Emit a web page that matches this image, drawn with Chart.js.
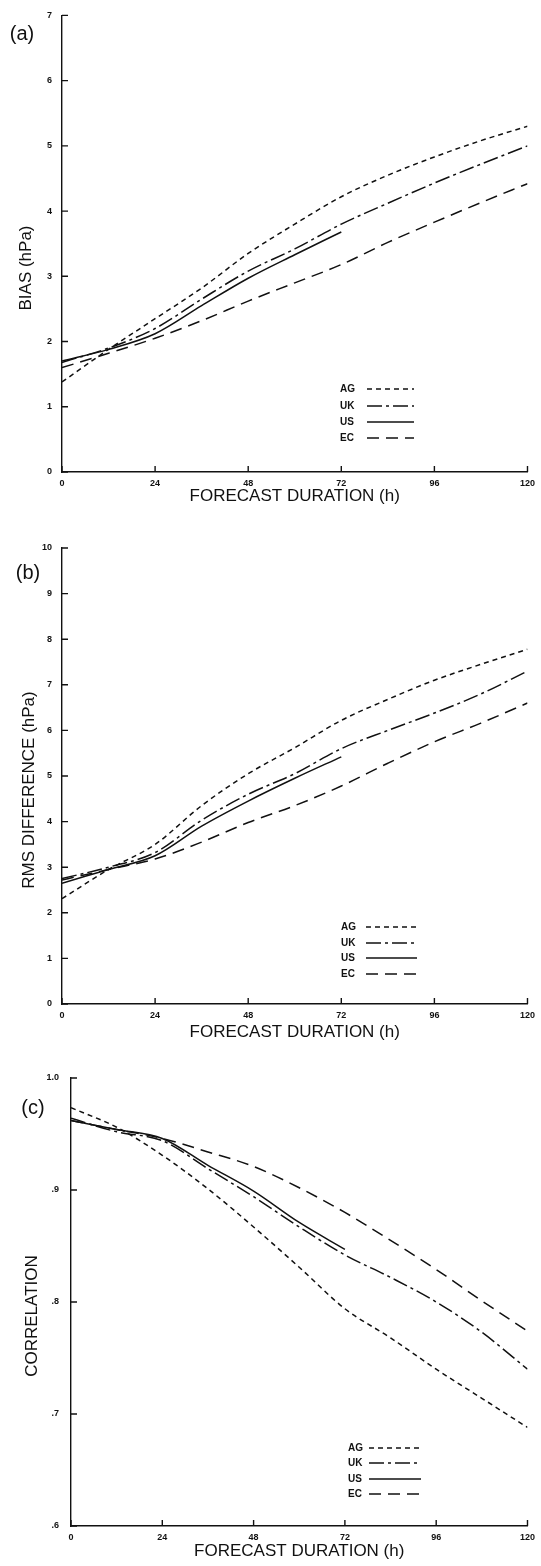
<!DOCTYPE html>
<html><head><meta charset="utf-8">
<script src="https://cdn.jsdelivr.net/npm/chart.js@4.4.1/dist/chart.umd.min.js"></script>
<style>
html,body{margin:0;padding:0;background:#fff;}
body{width:541px;height:1566px;position:relative;overflow:hidden;font-family:"Liberation Sans",Arial,sans-serif;color:#111;}
.wrap{position:absolute;left:0;width:541px;}
.lbl{position:absolute;transform:translate(-50%,-50%);white-space:nowrap;font-size:20px;}
.yt{position:absolute;transform:translate(-50%,-50%) rotate(-90deg);white-space:nowrap;font-size:17px;}
</style></head><body>
<div class="wrap" style="top:0;height:510px"><canvas id="ca"></canvas></div>
<div class="wrap" style="top:515px;height:530px"><canvas id="cb"></canvas></div>
<div class="wrap" style="top:1050px;height:516px"><canvas id="cc"></canvas></div>
<div class="lbl" style="left:22px;top:33px">(a)</div>
<div class="lbl" style="left:28px;top:572px">(b)</div>
<div class="lbl" style="left:33px;top:1107px">(c)</div>
<div class="yt" style="left:26px;top:268px">BIAS (hPa)</div>
<div class="yt" style="left:29px;top:790px">RMS DIFFERENCE (hPa)</div>
<div class="yt" style="left:32px;top:1316px">CORRELATION</div>
<script>
// ---- data ----
const HOURS = [0, 12, 24, 36, 48, 60, 72, 84, 96, 108, 120];
const HOURS_US = [0, 12, 24, 36, 48, 60, 72];
const SERIES = ['AG', 'UK', 'US', 'EC'];
const X_TICKS = [0, 24, 48, 72, 96, 120];

const BIAS_AG = [1.38, 1.88, 2.35, 2.82, 3.35, 3.8, 4.22, 4.55, 4.83, 5.08, 5.3];
const BIAS_UK = [1.68, 1.9, 2.2, 2.65, 3.08, 3.42, 3.8, 4.12, 4.43, 4.72, 5.0];
const BIAS_US = [1.7, 1.88, 2.12, 2.55, 2.97, 3.33, 3.68];
const BIAS_EC = [1.6, 1.82, 2.05, 2.32, 2.62, 2.9, 3.18, 3.52, 3.83, 4.13, 4.42];
const BIAS_TICKS = [0, 1, 2, 3, 4, 5, 6, 7];

const RMS_AG = [2.31, 2.95, 3.5, 4.35, 5.05, 5.62, 6.22, 6.68, 7.1, 7.45, 7.78];
const RMS_UK = [2.75, 3.0, 3.32, 4.03, 4.6, 5.05, 5.6, 6.0, 6.38, 6.8, 7.3];
const RMS_US = [2.65, 2.95, 3.25, 3.9, 4.45, 4.95, 5.42];
const RMS_EC = [2.72, 2.95, 3.18, 3.55, 3.98, 4.35, 4.78, 5.28, 5.75, 6.16, 6.6];
const RMS_TICKS = [0, 1, 2, 3, 4, 5, 6, 7, 8, 9, 10];

const COR_AG = [0.9735, 0.956, 0.931, 0.901, 0.867, 0.831, 0.794, 0.768, 0.740, 0.714, 0.688];
const COR_UK = [0.964, 0.952, 0.944, 0.919, 0.894, 0.867, 0.842, 0.822, 0.800, 0.773, 0.740];
const COR_US = [0.962, 0.954, 0.946, 0.922, 0.899, 0.871, 0.847];
const COR_EC = [0.962, 0.954, 0.946, 0.934, 0.921, 0.902, 0.880, 0.855, 0.829, 0.801, 0.774];
const COR_TICKS = [0.6, 0.7, 0.8, 0.9, 1.0];
const COR_TICK_LABELS = ['.6', '.7', '.8', '.9', '1.0'];

// ---- styles ----
const FONT = '"Liberation Sans", Arial, sans-serif';
const INK = '#111';
const DASH = { AG: [5, 4], UK: [15, 4, 3, 4], US: [], EC: [12, 7] };

function pts(xs, ys) { return ys.map((v, i) => ({ x: xs[i], y: v })); }
function ds(name, xs, ys) {
  return { label: name, data: pts(xs, ys), borderColor: INK, borderWidth: 1.5,
    borderDash: DASH[name], pointRadius: 0, fill: false, cubicInterpolationMode: 'monotone' };
}

const inwardTicks = {
  id: 'inwardTicks',
  afterDraw(chart, args, opts) {
    const { ctx } = chart; const xs = chart.scales.x, ys = chart.scales.y;
    ctx.save(); ctx.strokeStyle = INK; ctx.lineWidth = 1.4; ctx.setLineDash([]);
    ctx.beginPath();
    opts.xTicks.forEach(v => { const p = xs.getPixelForValue(v); ctx.moveTo(p, ys.bottom); ctx.lineTo(p, ys.bottom - 6); });
    opts.yTicks.forEach(v => { const p = ys.getPixelForValue(v); ctx.moveTo(xs.left, p); ctx.lineTo(xs.left + 6, p); });
    ctx.stroke(); ctx.restore();
  }
};
const panelLegend = {
  id: 'panelLegend',
  afterDraw(chart, args, o) {
    const { ctx } = chart;
    ctx.save(); ctx.fillStyle = INK; ctx.strokeStyle = INK; ctx.lineWidth = 1.5;
    ctx.font = 'bold 10px ' + FONT; ctx.textBaseline = 'middle'; ctx.textAlign = 'left';
    chart.data.datasets.forEach((d, i) => {
      const y = o.rows[i];
      ctx.fillText(d.label, o.x, y);
      ctx.setLineDash(d.borderDash); ctx.beginPath(); ctx.moveTo(o.x1, y); ctx.lineTo(o.x2, y); ctx.stroke();
    });
    ctx.restore();
  }
};

function makeChart(id, sets, cfg) {
  const yTickVals = cfg.yTicks;
  return new Chart(document.getElementById(id), {
    type: 'line',
    data: { datasets: sets },
    plugins: [inwardTicks, panelLegend],
    options: {
      responsive: true, maintainAspectRatio: false, animation: false,
      layout: { padding: { left: 0, right: cfg.padRight, top: cfg.padTop, bottom: 0 } },
      plugins: { legend: { display: false }, tooltip: { enabled: false },
        inwardTicks: { xTicks: X_TICKS, yTicks: yTickVals },
        panelLegend: cfg.legend },
      scales: {
        x: {
          type: 'linear', min: 0, max: 120,
          afterBuildTicks: s => { s.ticks = X_TICKS.map(v => ({ value: v })); },
          afterFit: s => { s.height = cfg.xHeight; },
          grid: { display: false, drawTicks: false },
          border: { display: true, color: INK, width: 1.4 },
          ticks: { color: INK, padding: cfg.xTickPad, maxRotation: 0, autoSkip: false,
            font: { family: FONT, size: 9, weight: 'bold' }, callback: v => String(v) },
          title: { display: true, text: 'FORECAST DURATION (h)', color: INK,
            font: { family: FONT, size: 17 }, padding: { top: 0, bottom: cfg.titlePad } }
        },
        y: {
          type: 'linear', min: cfg.yMin, max: cfg.yMax,
          afterBuildTicks: s => { s.ticks = yTickVals.map(v => ({ value: v })); },
          afterFit: s => { s.width = cfg.yWidth; },
          grid: { display: false, drawTicks: false },
          border: { display: true, color: INK, width: 1.4 },
          ticks: { color: INK, padding: cfg.yTickPad, autoSkip: false,
            font: { family: FONT, size: 9, weight: 'bold' },
            callback: (v, i) => cfg.yLabels ? cfg.yLabels[i] : String(v) }
        }
      }
    }
  });
}

makeChart('ca', [ds('AG', HOURS, BIAS_AG), ds('UK', HOURS, BIAS_UK), ds('US', HOURS_US, BIAS_US), ds('EC', HOURS, BIAS_EC)], {
  padRight: 12, padTop: 11, xHeight: 38, yWidth: 62, xTickPad: 6, titlePad: 3, yTickPad: 10,
  yMin: 0, yMax: 7, yTicks: BIAS_TICKS,
  legend: { x: 340, x1: 367, x2: 414, rows: [389, 406, 422, 438] }
});
makeChart('cb', [ds('AG', HOURS, RMS_AG), ds('UK', HOURS, RMS_UK), ds('US', HOURS_US, RMS_US), ds('EC', HOURS, RMS_EC)], {
  padRight: 13, padTop: 33, xHeight: 41, yWidth: 62, xTickPad: 6, titlePad: 2, yTickPad: 10,
  yMin: 0, yMax: 10, yTicks: RMS_TICKS,
  legend: { x: 341, x1: 366, x2: 417, rows: [927 - 515, 943 - 515, 958 - 515, 974 - 515] }
});
makeChart('cc', [ds('AG', HOURS, COR_AG), ds('UK', HOURS, COR_UK), ds('US', HOURS_US, COR_US), ds('EC', HOURS, COR_EC)], {
  padRight: 9, padTop: 28, xHeight: 40, yWidth: 71, xTickPad: 6, titlePad: 4, yTickPad: 12,
  yMin: 0.6, yMax: 1.0, yTicks: COR_TICKS, yLabels: COR_TICK_LABELS,
  legend: { x: 348, x1: 369, x2: 421, rows: [1448 - 1050, 1463 - 1050, 1479 - 1050, 1494 - 1050] }
});
</script>
</body></html>
